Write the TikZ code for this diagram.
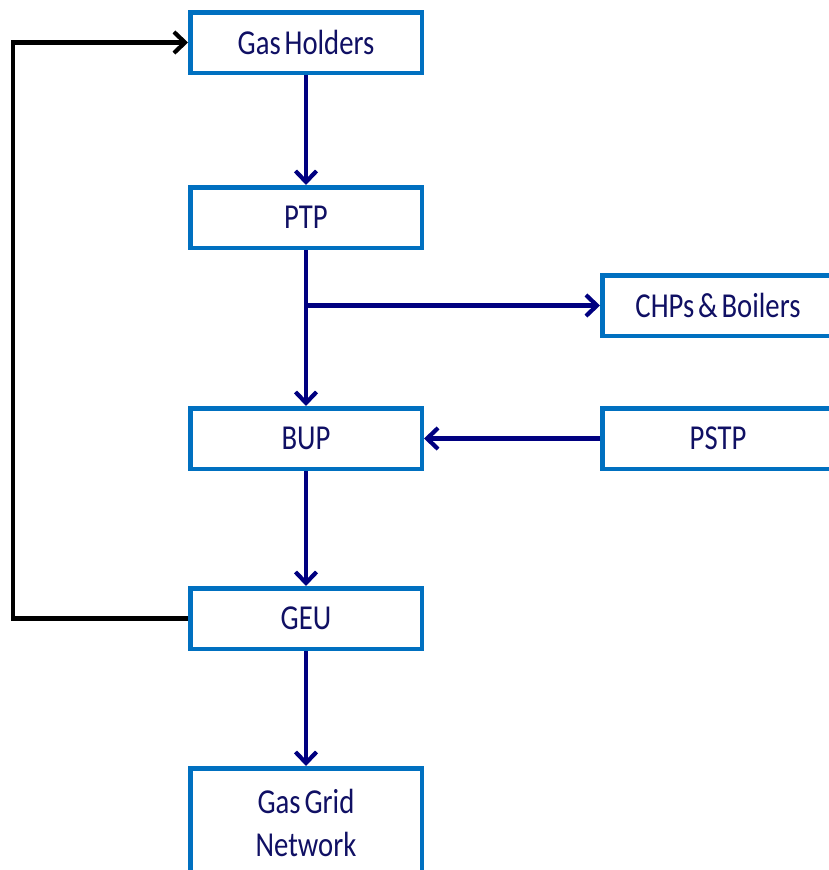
\documentclass[tikz,border=0pt]{standalone}
\usepackage{fontspec}
\setmainfont{Carlito}[FakeStretch=0.82, WordSpace=0.6]
\usepackage{tikz}
\usetikzlibrary{positioning,arrows.meta}

\definecolor{boxblue}{RGB}{0,112,192}
\definecolor{flownavy}{RGB}{0,0,128}
\definecolor{textnavy}{RGB}{16,16,100}

\begin{document}
\begin{tikzpicture}[
x=1pt, y=-1pt,
unitbox/.style={rectangle, draw=boxblue, line width=4.5pt, fill=white, text=textnavy,
    minimum width=231.5pt, minimum height=60.5pt, align=center,
    font=\fontsize{35}{43}\selectfont},
flow/.style={-{Straight Barb[length=11pt,width=21pt,line width=4.2pt]}, draw=flownavy, line width=4.2pt},
feedback/.style={-{Straight Barb[length=11pt,width=21pt,line width=4.2pt]}, draw=black, line width=4.2pt}
]
    \useasboundingbox (0,0) rectangle (829,870);

    %Nodes
    \node[unitbox]
        (gh)    at (306,42.5)            {Gas Holders};
    \node[unitbox]
        (ptp)   [below=110pt of gh]     {PTP};
    \node[unitbox]
        (bup)   [below=156pt of ptp]    {BUP};
    \node[unitbox]
        (geu)   [below=115pt of bup]    {GEU};
    \node[unitbox, minimum height=110pt]
        (grid)  [below=115pt of geu]    {Gas Grid\\Network};
    \node[unitbox]
        (pstp)  [right=176pt of bup]    {PSTP};
    \node[unitbox]
        (chp)   [above=68pt of pstp]    {CHPs \& Boilers};

    %Lines
    \draw[flow] (gh.south) -- (ptp.north);
    \draw[flow] (ptp.south) -- (bup.north);
    \draw[flow] (ptp.south |- chp.west) -- (chp.west);
    \draw[flow] (pstp.west) -- (bup.east);
    \draw[flow] (bup.south) -- (geu.north);
    \draw[flow] (geu.south) -- (grid.north);
    \draw[feedback] (geu.west) -- ++(-175pt,0) |- (gh.west);
\end{tikzpicture}
\end{document}
